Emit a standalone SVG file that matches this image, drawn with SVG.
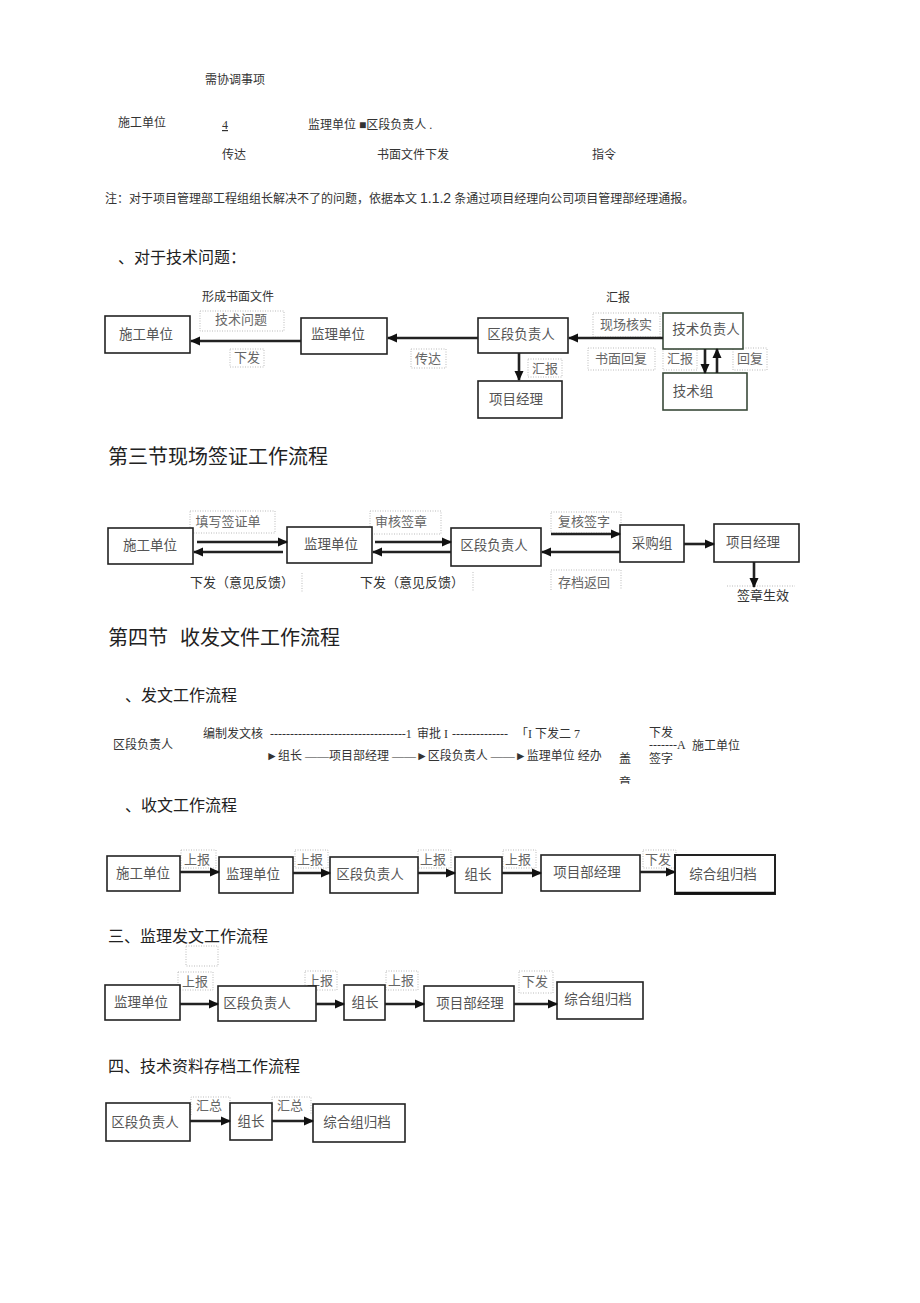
<svg xmlns="http://www.w3.org/2000/svg" width="920" height="1303" viewBox="0 0 920 1303">
<defs>
<style>
text{font-family:"Liberation Serif","Noto Sans CJK SC",serif;fill:#333}
.t12{font-size:12px}
.t13{font-size:13px}
.h16{font-size:16px;fill:#222}
.h20{font-size:20px;fill:#222}
.bx{fill:#fff;stroke:#222;stroke-width:1.6}
.bl{font-size:13.5px;fill:#555;text-anchor:middle}
.lb{fill:none;stroke:#bbb;stroke-width:1;stroke-dasharray:1,1.5}
.lt{font-size:13px;fill:#666;text-anchor:middle}
.ar{stroke:#222;stroke-width:2.6;fill:none;marker-end:url(#ah)}
.dl{stroke:#bbb;stroke-width:1;stroke-dasharray:1,1.5}
</style>
<marker id="ah" markerUnits="userSpaceOnUse" markerWidth="10" markerHeight="10" refX="9" refY="5" orient="auto">
<path d="M0,0.5 L10,5 L0,9.5 Z" fill="#111"/>
</marker>
<clipPath id="cz"><rect x="600" y="768" width="40" height="16"/></clipPath>
</defs>
<rect width="920" height="1303" fill="#fff"/>

<g id="top-text">
<text class="t12" x="205" y="84">需协调事项</text>
<text class="t12" x="118" y="127">施工单位</text>
<text class="t12" x="222" y="129" text-decoration="underline">4</text>
<text class="t12" x="308" y="129">监理单位 ■区段负责人 .</text>
<text class="t12" x="222" y="159">传达</text>
<text class="t12" x="377" y="159">书面文件下发</text>
<text class="t12" x="592" y="159">指令</text>
<text class="t12" x="105" y="203">注：对于项目管理部工程组组长解决不了的问题，依据本文 <tspan font-family="Liberation Sans" font-size="14">1.1.2</tspan> 条通过项目经理向公司项目管理部经理通报。</text>
<text class="h16" x="118" y="263" font-size="15">、对于技术问题：</text>
</g>

<!-- Technical issues diagram -->
<g id="tech-labels">
<text class="t12" x="202" y="301">形成书面文件</text>
<text class="t12" x="606" y="302">汇报</text>
<rect class="lb" x="200" y="311" width="84" height="20"/><text class="lt" x="241" y="324">技术问题</text>
<rect class="lb" x="230" y="349" width="34" height="18"/><text class="lt" x="247" y="362">下发</text>
<rect class="lb" x="411" y="349" width="35" height="19"/><text class="lt" x="428" y="363">传达</text>
<rect class="lb" x="528" y="359" width="34" height="18"/><text class="lt" x="545" y="373">汇报</text>
<rect class="lb" x="593" y="313" width="67" height="24"/><text class="lt" x="626" y="329">现场核实</text>
<rect class="lb" x="588" y="348" width="67" height="22"/><text class="lt" x="621" y="363">书面回复</text>
<rect class="lb" x="663" y="349" width="34" height="21"/><text class="lt" x="680" y="363">汇报</text>
<rect class="lb" x="733" y="348" width="34" height="22"/><text class="lt" x="750" y="363">回复</text>
</g>
<g id="n-t-sg"><rect class="bx" x="105" y="316" width="85" height="37"/><text class="bl" x="146" y="339">施工单位</text></g>
<g id="n-t-jl"><rect class="bx" x="301" y="318" width="86" height="36"/><text class="bl" x="338" y="339">监理单位</text></g>
<g id="n-t-qd"><rect class="bx" x="478" y="318" width="90" height="35"/><text class="bl" x="521" y="339">区段负责人</text></g>
<g id="n-t-xm"><rect class="bx" x="478" y="381" width="84" height="37"/><text class="bl" x="516" y="404">项目经理</text></g>
<g id="n-t-js"><rect class="bx" x="663" y="313" width="80" height="36" style="stroke:#3a4a3a"/><text class="bl" x="706" y="334">技术负责人</text></g>
<g id="n-t-jz"><rect class="bx" x="663" y="373" width="84" height="37" style="stroke:#3a4a3a"/><text class="bl" x="693" y="396">技术组</text></g>

<text class="h20" x="108" y="464">第三节现场签证工作流程</text>

<!-- Section 3 -->
<g id="s3-labels">
<rect class="lb" x="190" y="511" width="85" height="22"/><text class="lt" x="228" y="526">填写签证单</text>
<rect class="lb" x="370" y="511" width="71" height="23"/><text class="lt" x="401" y="526">审核签章</text>
<rect class="lb" x="551" y="512" width="70" height="21"/><text class="lt" x="584" y="526">复核签字</text>
<path class="lb" d="M551,590 V570 H621 V590"/><text class="lt" x="584" y="587">存档返回</text>
<text class="t13" x="190" y="587" fill="#555">下发（意见反馈）</text>
<text class="t13" x="360" y="587" fill="#555">下发（意见反馈）</text>
<line class="dl" x1="302" y1="573" x2="302" y2="592"/>
<line class="dl" x1="473" y1="572" x2="473" y2="591"/>
<line class="dl" x1="727" y1="586" x2="795" y2="586"/>
<text class="t13" x="737" y="600" fill="#444">签章生效</text>
</g>
<g id="n-s3-sg"><rect class="bx" x="108" y="528" width="85" height="36"/><text class="bl" x="150" y="550">施工单位</text></g>
<g id="n-s3-jl"><rect class="bx" x="287" y="527" width="85" height="36"/><text class="bl" x="331" y="549">监理单位</text></g>
<g id="n-s3-qd"><rect class="bx" x="451" y="528" width="90" height="38"/><text class="bl" x="494" y="550">区段负责人</text></g>
<g id="n-s3-cg"><rect class="bx" x="620" y="525" width="64" height="37"/><text class="bl" x="652" y="548">采购组</text></g>
<g id="n-s3-xm"><rect class="bx" x="714" y="524" width="85" height="38"/><text class="bl" x="753" y="547">项目经理</text></g>

<text class="h20" x="108" y="645">第四节<tspan x="180">收发文件工作流程</tspan></text>
<text class="h16" x="125" y="701">、发文工作流程</text>

<!-- Section 4 dispatch text flow -->
<g id="fawen">
<text class="t12" x="113" y="749">区段负责人</text>
<text class="t12" x="203" y="738">编制发文核</text>
<text class="t12" x="270" y="738">----------------------------------1<tspan x="417">审批 I</tspan><tspan x="452">--------------</tspan><tspan x="516">「I 下发二 7</tspan></text>
<text class="t12" x="266" y="760">►组长 ——项目部经理 ——►区段负责人 ——►监理单位 经办</text>
<text class="t12" x="619" y="763">盖</text>
<text class="t12" x="619" y="787" clip-path="url(#cz)">章</text>
<text class="t12" x="649" y="737">下发</text>
<text class="t12" x="649" y="749" font-size="10">-------A</text>
<text class="t12" x="692" y="750">施工单位</text>
<text class="t12" x="649" y="763">签字</text>
</g>

<text class="h16" x="125" y="811">、收文工作流程</text>

<!-- Receive flow -->
<g id="sw-labels">
<rect class="lb" x="181" y="850" width="35" height="18"/><text class="lt" x="197" y="864">上报</text>
<rect class="lb" x="295" y="850" width="33" height="18"/><text class="lt" x="310" y="864">上报</text>
<rect class="lb" x="418" y="850" width="33" height="18"/><text class="lt" x="433" y="864">上报</text>
<rect class="lb" x="503" y="850" width="33" height="18"/><text class="lt" x="518" y="864">上报</text>
<rect class="lb" x="643" y="850" width="33" height="18"/><text class="lt" x="658" y="864">下发</text>
</g>
<g id="n-sw-sg"><rect class="bx" x="107" y="856" width="73" height="35"/><text class="bl" x="143" y="878">施工单位</text></g>
<g id="n-sw-jl"><rect class="bx" x="219" y="857" width="74" height="36"/><text class="bl" x="253" y="879">监理单位</text></g>
<g id="n-sw-qd"><rect class="bx" x="330" y="857" width="88" height="36"/><text class="bl" x="370" y="879">区段负责人</text></g>
<g id="n-sw-zz"><rect class="bx" x="455" y="857" width="47" height="36"/><text class="bl" x="478" y="879">组长</text></g>
<g id="n-sw-xm"><rect class="bx" x="541" y="855" width="99" height="36"/><text class="bl" x="587" y="877">项目部经理</text></g>
<g id="n-sw-zh"><rect class="bx" x="675" y="855" width="100" height="39" style="stroke-width:2"/><line x1="675" y1="893" x2="775" y2="893" stroke="#111" stroke-width="2.5"/><text class="bl" x="723" y="879">综合组归档</text></g>

<text class="h16" x="108" y="942">三、监理发文工作流程</text>

<!-- Supervisor dispatch -->
<g id="jl-labels">
<rect class="lb" x="186" y="946" width="32" height="20"/>
<rect class="lb" x="178" y="972" width="35" height="18"/><text class="lt" x="195" y="986">上报</text>
<rect class="lb" x="305" y="971" width="32" height="19"/><text class="lt" x="320" y="985">上报</text>
<rect class="lb" x="386" y="971" width="32" height="19"/><text class="lt" x="401" y="985">上报</text>
<rect class="lb" x="519" y="971" width="34" height="22"/><text class="lt" x="535" y="986">下发</text>
</g>
<g id="n-jl-jl"><rect class="bx" x="105" y="985" width="75" height="35"/><text class="bl" x="141" y="1007">监理单位</text></g>
<g id="n-jl-qd"><rect class="bx" x="218" y="986" width="98" height="35"/><text class="bl" x="257" y="1008">区段负责人</text></g>
<g id="n-jl-zz"><rect class="bx" x="344" y="985" width="41" height="35"/><text class="bl" x="365" y="1007">组长</text></g>
<g id="n-jl-xm"><rect class="bx" x="424" y="986" width="90" height="35"/><text class="bl" x="470" y="1008">项目部经理</text></g>
<g id="n-jl-zh"><rect class="bx" x="557" y="982" width="86" height="37"/><text class="bl" x="598" y="1004">综合组归档</text></g>

<text class="h16" x="108" y="1072">四、技术资料存档工作流程</text>

<!-- Archive flow -->
<g id="da-labels">
<path class="lb" d="M191,1115 V1097 H230 V1115"/><text class="lt" x="209" y="1110">汇总</text>
<path class="lb" d="M272,1115 V1097 H311 V1115"/><text class="lt" x="290" y="1110">汇总</text>
</g>
<g id="n-da-qd"><rect class="bx" x="106" y="1103" width="84" height="38"/><text class="bl" x="145" y="1127">区段负责人</text></g>
<g id="n-da-zz"><rect class="bx" x="230" y="1103" width="42" height="37"/><text class="bl" x="251" y="1126">组长</text></g>
<g id="n-da-zh"><rect class="bx" x="313" y="1104" width="92" height="38"/><text class="bl" x="357" y="1127">综合组归档</text></g>

<g id="connectors">
<!-- tech -->
<line class="ar" x1="301" y1="341" x2="191" y2="341"/>
<line class="ar" x1="478" y1="338" x2="388" y2="338"/>
<line class="ar" x1="519" y1="353" x2="519" y2="380"/>
<line class="ar" x1="663" y1="338" x2="569" y2="338"/>
<line class="ar" x1="705" y1="349" x2="705" y2="373"/>
<line class="ar" x1="717" y1="373" x2="717" y2="349"/>
<!-- s3 -->
<line class="ar" x1="197" y1="542" x2="287" y2="542"/>
<line class="ar" x1="283" y1="552" x2="194" y2="552"/>
<line class="ar" x1="375" y1="542" x2="451" y2="542"/>
<line class="ar" x1="451" y1="552" x2="373" y2="552"/>
<line class="ar" x1="551" y1="534" x2="620" y2="534"/>
<line class="ar" x1="620" y1="552" x2="542" y2="552"/>
<line class="ar" x1="684" y1="544" x2="714" y2="544"/>
<line class="ar" x1="754" y1="562" x2="754" y2="587"/>
<!-- receive -->
<line class="ar" x1="180" y1="872" x2="219" y2="872"/>
<line class="ar" x1="293" y1="873" x2="330" y2="873"/>
<line class="ar" x1="418" y1="873" x2="455" y2="873"/>
<line class="ar" x1="502" y1="873" x2="541" y2="873"/>
<line class="ar" x1="640" y1="872" x2="675" y2="872"/>
<!-- supervisor -->
<line class="ar" x1="180" y1="1004" x2="218" y2="1004"/>
<line class="ar" x1="316" y1="1004" x2="344" y2="1004"/>
<line class="ar" x1="385" y1="1004" x2="424" y2="1004"/>
<line class="ar" x1="514" y1="1004" x2="557" y2="1004"/>
<!-- archive -->
<line class="ar" x1="190" y1="1121" x2="230" y2="1121"/>
<line class="ar" x1="272" y1="1121" x2="313" y2="1121"/>
</g>
</svg>
